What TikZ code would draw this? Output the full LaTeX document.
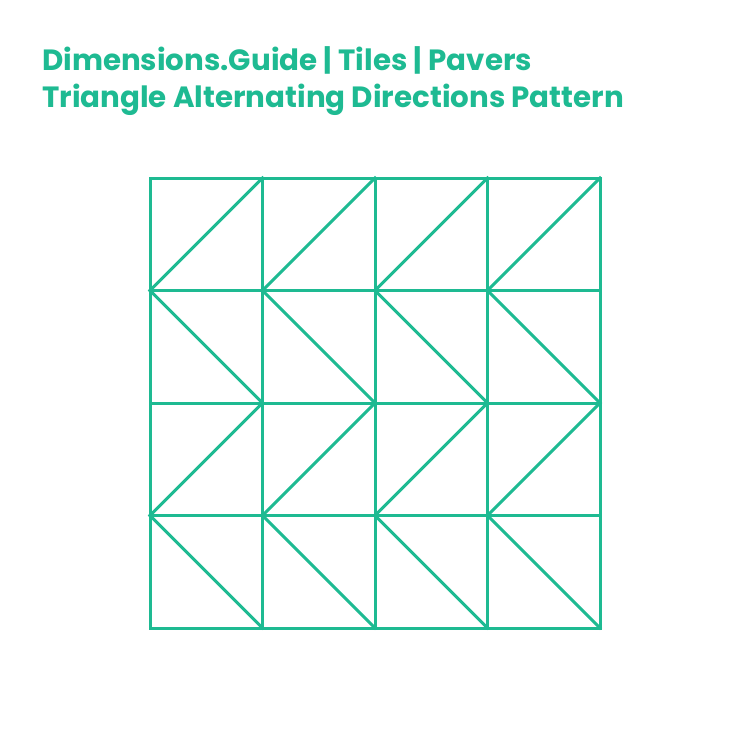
\documentclass[tikz,border=0pt]{standalone}
\usepackage{fontspec}
\setmainfont{Poppins}
\definecolor{teal}{RGB}{30,186,146}
\begin{document}
\begin{tikzpicture}[x=1pt,y=-1pt,
  grid/.style={draw=teal,line width=3pt,line cap=rect,line join=miter},
  title/.style={anchor=base west,inner sep=0pt,text=teal,font=\fontsize{29.3}{31}\selectfont\bfseries}]
\useasboundingbox[fill=white] (0,0) rectangle (750,750);
\node[title] (t1) at (42,70) {Dimensions.Guide | Tiles | Pavers};
\node[title] (t2) at (42,107) {Triangle Alternating Directions Pattern};
\foreach \i in {0,...,4}{
  \coordinate (v\i) at (150+112.5*\i,178);
  \coordinate (w\i) at (150+112.5*\i,628);
  \coordinate (h\i) at (150,178+112.5*\i);
  \coordinate (k\i) at (600,178+112.5*\i);
  \draw[grid] (v\i) -- (w\i);
  \draw[grid] (h\i) -- (k\i);
}
\foreach \r in {0,2}{
  \foreach \c in {0,...,3}{
    \draw[grid] (150+112.5*\c,178+112.5*\r+112.5) -- (150+112.5*\c+112.5,178+112.5*\r);
  }
}
\foreach \r in {1,3}{
  \foreach \c in {0,...,3}{
    \draw[grid] (150+112.5*\c,178+112.5*\r) -- (150+112.5*\c+112.5,178+112.5*\r+112.5);
  }
}
\end{tikzpicture}
\end{document}
